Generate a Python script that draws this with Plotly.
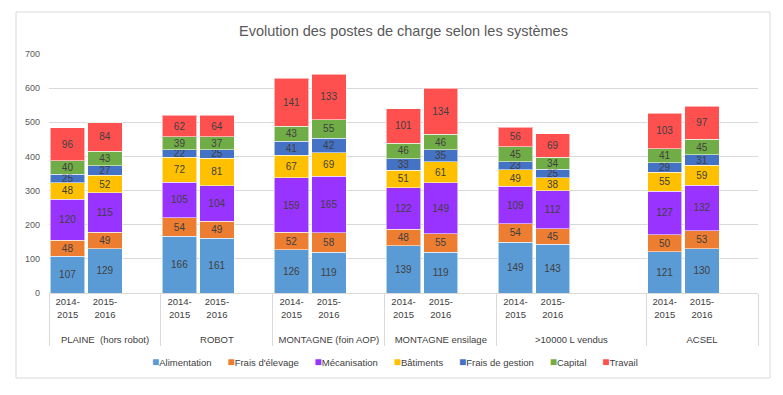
import plotly.graph_objects as go

# ---------------- data ----------------
groups = ["PLAINE  (hors robot)", "ROBOT", "MONTAGNE (foin AOP)",
          "MONTAGNE ensilage", ">10000 L vendus", "ACSEL"]
periods = ["2014-<br>2015", "2015-<br>2016"]
empty_slots = [1, 1, 1, 1, 2, 1]   # empty category slots after each group

series_names = ["Alimentation", "Frais d'élevage", "Mécanisation", "Bâtiments",
                "Frais de gestion", "Capital", "Travail"]
series_colors = ["#5B9BD5", "#ED7D31", "#9933FF", "#FFC000",
                 "#4472C4", "#70AD47", "#FF5050"]

# values per bar: group order, 2014-2015 then 2015-2016
alimentation     = [107, 129, 166, 161, 126, 119, 139, 119, 149, 143, 121, 130]
frais_elevage    = [48, 49, 54, 49, 52, 58, 48, 55, 54, 45, 50, 53]
mecanisation     = [120, 115, 105, 104, 159, 165, 122, 149, 109, 112, 127, 132]
batiments        = [48, 52, 72, 81, 67, 69, 51, 61, 49, 38, 55, 59]
frais_gestion    = [25, 27, 22, 25, 41, 42, 33, 35, 23, 25, 29, 31]
capital          = [40, 43, 39, 37, 43, 55, 46, 46, 45, 34, 41, 45]
travail          = [96, 84, 62, 64, 141, 133, 101, 134, 56, 69, 103, 97]

series_values = [alimentation, frais_elevage, mecanisation, batiments,
                 frais_gestion, capital, travail]

title_text = "Evolution des postes de charge selon les systèmes"

# ---------------- build categories ----------------
lvl0, lvl1, idx = [], [], []
k = 0
for gi, g in enumerate(groups):
    glabel = "<br>" + g   # blank first line spaces the group row like the original
    for p in periods:
        lvl0.append(glabel); lvl1.append(p); idx.append(k); k += 1
    for e in range(empty_slots[gi]):
        lvl0.append(glabel); lvl1.append(" " * (e + 1)); idx.append(None)

TXT = "#404040"
FONT = "Liberation Sans, Arial, sans-serif"

fig = go.Figure()
for name, color, vals in zip(series_names, series_colors, series_values):
    y = [vals[i] if i is not None else None for i in idx]
    fig.add_trace(go.Bar(
        x=[lvl0, lvl1], y=y, name=name,
        marker=dict(color=color, line=dict(color="rgba(255,255,255,0.55)", width=1)),
        texttemplate="%{y}", textposition="inside", insidetextanchor="middle",
        textangle=0, constraintext="none",
        textfont=dict(size=10, color=TXT, family=FONT),
        showlegend=False, hoverinfo="y+name",
    ))

# geometry of plot area (px)
W, H = 783, 395
L, R, T, B = 49, 25, 54, 102
pw, ph = W - L - R, H - T - B

def px_x(x):
    return (x - L) / pw

def px_y(y):
    return (H - B - y) / ph

# legend as a compact single line
legend_parts = []
for name, color in zip(series_names, series_colors):
    legend_parts.append(
        f"<span style='color:{color};font-size:12px'>■</span>{name}")
legend_text = ("\u00a0" * 6).join(legend_parts)

fig.update_layout(
    width=W, height=H,
    margin=dict(l=L, r=R, t=T, b=B),
    barmode="stack", bargap=0.08,
    plot_bgcolor="white", paper_bgcolor="white",
    font=dict(family=FONT, color=TXT, size=9.5),
    title=dict(text=title_text, x=0.5, xref="paper", xanchor="center",
               y=1 - 31 / H, yanchor="middle",
               font=dict(size=14.5, color="#595959", family=FONT)),
    uniformtext=dict(minsize=10, mode="show"),
    xaxis=dict(type="multicategory", showline=True, linecolor="#D9D9D9",
               linewidth=1, ticks="", showdividers=True, automargin=False,
               dividercolor="#D9D9D9", dividerwidth=1,
               tickfont=dict(size=9.5, color=TXT, family=FONT),
               showgrid=False),
    yaxis=dict(range=[0, 700], dtick=100, showgrid=True, gridcolor="#D9D9D9",
               gridwidth=1, zeroline=False, showline=False, ticks="",
               ticklabelstandoff=8, automargin=False,
               tickfont=dict(size=9, color="#595959", family=FONT)),
    shapes=[dict(type="rect", xref="paper", yref="paper",
                 x0=px_x(16), x1=px_x(770), y0=px_y(378), y1=px_y(12),
                 line=dict(color="#D9D9D9", width=1), fillcolor="rgba(0,0,0,0)",
                 layer="below")],
    annotations=[dict(text=legend_text, xref="paper", yref="paper",
                      x=px_x(395), y=px_y(361.5), xanchor="center", yanchor="middle",
                      showarrow=False, font=dict(size=9.5, color=TXT, family=FONT))],
)

fig.write_html("out.html", config={"displayModeBar": False},
               post_script="document.body.style.margin='0';")
